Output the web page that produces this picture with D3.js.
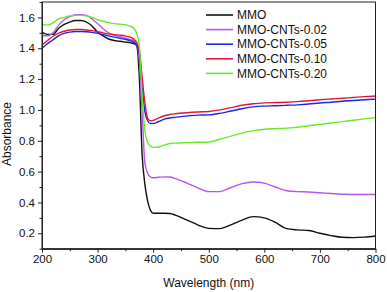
<!DOCTYPE html>
<html><head><meta charset="utf-8">
<script src="https://cdn.jsdelivr.net/npm/d3@7"></script>
<style>
html,body{margin:0;padding:0;background:#fff;}
svg{display:block;font-family:"Liberation Sans",Arial,sans-serif;}
</style></head>
<body><svg id="c" width="387" height="292"></svg>
<script>
const wavelength = [200,210,220,230,240,250,260,270,280,290,300,310,320,330,340,350,360,365,370,375,380,385,390,395,400,410,420,430,440,460,480,500,520,540,560,580,600,620,640,660,680,700,720,740,760,780,800];
const mmo   = [1.505,1.49,1.49,1.53,1.555,1.57,1.58,1.58,1.57,1.545,1.505,1.48,1.46,1.45,1.445,1.44,1.435,1.43,1.42,1.22,0.72,0.52,0.41,0.35,0.33,0.33,0.33,0.328,0.318,0.287,0.255,0.232,0.23,0.255,0.285,0.308,0.3,0.27,0.23,0.222,0.218,0.2,0.185,0.174,0.172,0.175,0.182];
const cnt002 = [1.483,1.48,1.5,1.55,1.585,1.605,1.617,1.618,1.613,1.59,1.56,1.527,1.5,1.485,1.475,1.465,1.455,1.45,1.43,1.33,1.0,0.66,0.59,0.567,0.56,0.563,0.566,0.565,0.555,0.527,0.495,0.47,0.47,0.497,0.522,0.533,0.525,0.5,0.476,0.47,0.468,0.463,0.458,0.453,0.452,0.452,0.452];
const cnt005 = [1.4,1.43,1.455,1.482,1.497,1.505,1.509,1.509,1.507,1.503,1.497,1.488,1.48,1.472,1.465,1.458,1.448,1.44,1.42,1.37,1.16,0.99,0.93,0.913,0.912,0.925,0.94,0.948,0.952,0.96,0.966,0.968,0.978,0.993,1.008,1.02,1.025,1.027,1.03,1.033,1.038,1.045,1.05,1.056,1.061,1.066,1.07];
const cnt010 = [1.422,1.45,1.478,1.498,1.51,1.518,1.522,1.522,1.518,1.514,1.508,1.5,1.493,1.488,1.485,1.48,1.47,1.46,1.44,1.39,1.22,1.05,0.945,0.93,0.932,0.948,0.962,0.97,0.975,0.982,0.987,0.99,1.0,1.015,1.03,1.04,1.046,1.048,1.05,1.054,1.06,1.066,1.071,1.076,1.081,1.086,1.09];
const cnt020 = [1.553,1.55,1.565,1.59,1.6,1.61,1.613,1.613,1.61,1.6,1.585,1.575,1.566,1.56,1.556,1.553,1.54,1.53,1.5,1.42,1.1,0.87,0.79,0.765,0.757,0.76,0.772,0.782,0.785,0.788,0.79,0.792,0.81,0.83,0.85,0.866,0.875,0.879,0.882,0.888,0.897,0.906,0.915,0.924,0.933,0.942,0.95];
const seriesNames = ["MMO","MMO-CNTs-0.02","MMO-CNTs-0.05","MMO-CNTs-0.10","MMO-CNTs-0.20"];
const seriesValues = [mmo,cnt002,cnt005,cnt010,cnt020];
const seriesColors = ["#111111","#b455f2","#1a28e0","#e0183c","#66ea2a"];
const xTicks = [200,300,400,500,600,700,800];
const yTicks = [0.2,0.4,0.6,0.8,1.0,1.2,1.4,1.6];
const xMinor = [250,350,450,550,650,750];
const yMinor = [0.1,0.3,0.5,0.7,0.9,1.1,1.3,1.5,1.7];

const svg = d3.select("#c");
const L=42, R=375.5, T=2, B=248.7;
const x = d3.scaleLinear().domain([200,800]).range([L,R]);
const y = d3.scaleLinear().domain([0.1,1.7]).range([B,T]);

const line = d3.line().x((d,i)=>x(wavelength[i])).y(d=>y(d)).curve(d3.curveMonotoneX);
const plot = svg.append("g");
seriesValues.forEach((vals,k)=>{
  plot.append("path").attr("d",line(vals)).attr("fill","none")
    .attr("stroke",seriesColors[k]).attr("stroke-width",1.4);
});

// frame
svg.append("rect").attr("x",L).attr("y",T).attr("width",R-L).attr("height",B-T)
  .attr("fill","none").attr("stroke","#222").attr("stroke-width",1);

const xAxis = svg.append("g").attr("transform",`translate(0,${B})`)
  .call(d3.axisBottom(x).tickValues(xTicks).tickSize(4).tickSizeOuter(0).tickPadding(2).tickFormat(d3.format("d")));
const xAxisMinor = svg.append("g").attr("transform",`translate(0,${B})`)
  .call(d3.axisBottom(x).tickValues(xMinor).tickSize(2.5).tickSizeOuter(0).tickFormat(""));
const yAxis = svg.append("g").attr("transform",`translate(${L},0)`)
  .call(d3.axisLeft(y).tickValues(yTicks).tickSize(4).tickSizeOuter(0).tickPadding(3).tickFormat(d3.format(".1f")));
const yAxisMinor = svg.append("g").attr("transform",`translate(${L},0)`)
  .call(d3.axisLeft(y).tickValues(yMinor).tickSize(2.5).tickSizeOuter(0).tickFormat(""));
[xAxis,xAxisMinor,yAxis,yAxisMinor].forEach(g=>{
  g.select(".domain").attr("stroke","#222");
  g.selectAll(".tick line").attr("stroke","#222");
  g.selectAll("text").attr("fill","#111").style("font-size","11.5px").style("font-family","'Liberation Sans',Arial,sans-serif");
});

svg.append("text").attr("x",(L+R)/2).attr("y",287).attr("text-anchor","middle")
  .style("font-size","12px").attr("fill","#111").text("Wavelength (nm)");
svg.append("text").attr("transform","translate(11,134) rotate(-90)").attr("text-anchor","middle")
  .style("font-size","12px").attr("fill","#111").text("Absorbance");

// legend
const lg = svg.append("g");
seriesNames.forEach((n,k)=>{
  const yy = 15 + k*14.6;
  lg.append("line").attr("x1",206).attr("x2",233).attr("y1",yy).attr("y2",yy)
    .attr("stroke",seriesColors[k]).attr("stroke-width",1.6);
  lg.append("text").attr("x",237).attr("y",yy).attr("dy","0.35em")
    .style("font-size","12px").attr("fill","#111").text(n);
});
</script></body></html>
